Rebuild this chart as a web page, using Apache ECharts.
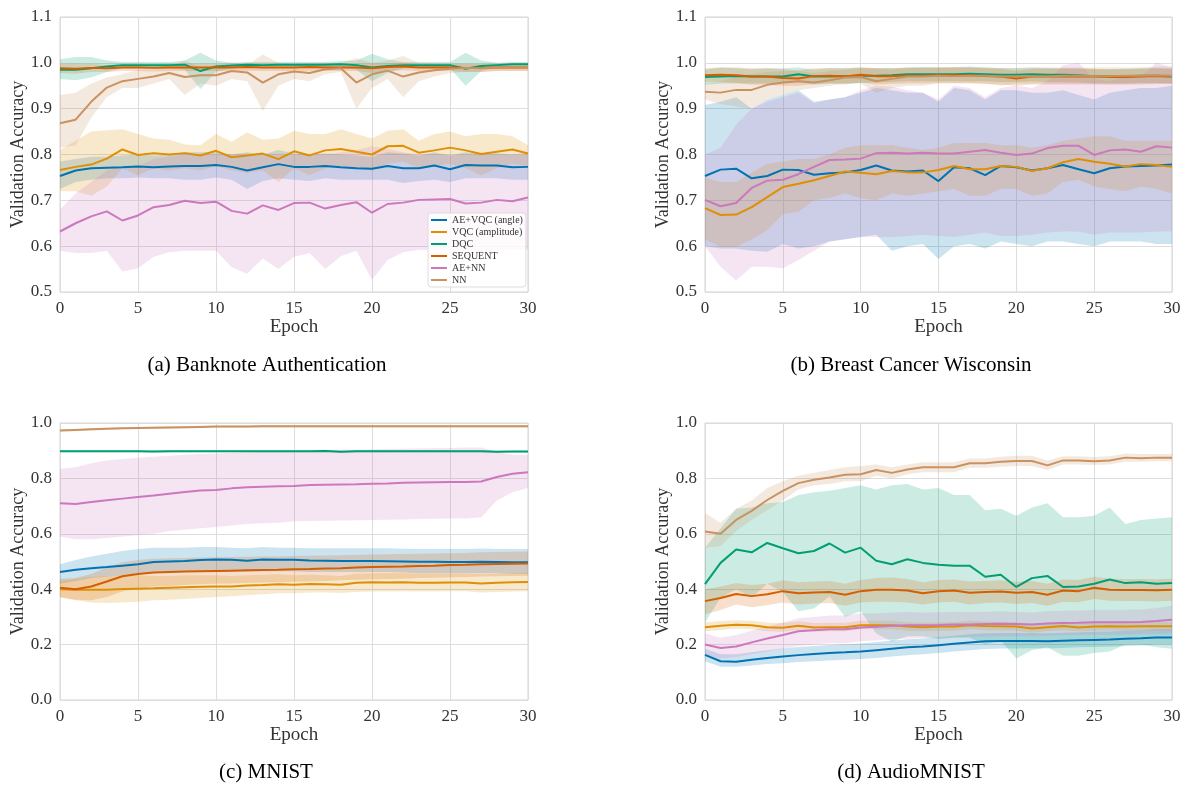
<!DOCTYPE html>
<html>
<head>
<meta charset="utf-8">
<title>Validation accuracy</title>
<script src="https://cdn.jsdelivr.net/npm/echarts@6/dist/echarts.min.js"></script>
<style>
  html, body { margin: 0; background: #fff; }
  #chart { width: 1187px; height: 787px; }
</style>
</head>
<body>
<div id="chart"></div>
<script>
const epochs = ['0','1','2','3','4','5','6','7','8','9','10','11','12','13','14','15','16','17','18','19','20','21','22','23','24','25','26','27','28','29','30'];
const methods = ['AE+VQC (angle)', 'VQC (amplitude)', 'DQC', 'SEQUENT', 'AE+NN', 'NN'];
const colors = ['#0173b2', '#de8f05', '#029e73', '#d55e00', '#cc78bc', '#ca9161'];
const captions = ['(a) Banknote Authentication', '(b) Breast Cancer Wisconsin', '(c) MNIST', '(d) AudioMNIST'];

// (a) Banknote Authentication
const bankAngle = [0.753,0.765,0.770,0.771,0.772,0.774,0.772,0.774,0.775,0.775,0.777,0.773,0.765,0.772,0.779,0.773,0.773,0.775,0.772,0.770,0.769,0.775,0.770,0.770,0.776,0.768,0.777,0.776,0.776,0.772,0.773];
const bankAngleLo = [0.725,0.740,0.745,0.748,0.748,0.750,0.748,0.748,0.745,0.745,0.750,0.745,0.725,0.742,0.748,0.745,0.742,0.748,0.745,0.745,0.745,0.745,0.738,0.742,0.745,0.740,0.748,0.748,0.748,0.745,0.745];
const bankAngleHi = [0.785,0.790,0.795,0.795,0.798,0.800,0.798,0.800,0.805,0.805,0.805,0.800,0.805,0.800,0.810,0.802,0.800,0.802,0.800,0.798,0.795,0.805,0.802,0.798,0.805,0.798,0.805,0.803,0.803,0.800,0.800];
const bankVqc = [0.766,0.773,0.778,0.791,0.811,0.799,0.803,0.800,0.803,0.798,0.808,0.794,0.798,0.802,0.790,0.807,0.798,0.809,0.812,0.806,0.800,0.818,0.819,0.804,0.809,0.815,0.809,0.801,0.806,0.811,0.802];
const bankVqcLo = [0.720,0.720,0.710,0.730,0.770,0.755,0.770,0.765,0.770,0.765,0.775,0.765,0.760,0.765,0.740,0.770,0.755,0.770,0.775,0.770,0.765,0.780,0.785,0.770,0.775,0.780,0.770,0.755,0.770,0.780,0.775];
const bankVqcHi = [0.810,0.830,0.850,0.853,0.855,0.845,0.835,0.832,0.822,0.820,0.845,0.828,0.848,0.832,0.835,0.852,0.845,0.845,0.855,0.845,0.835,0.852,0.855,0.830,0.845,0.850,0.840,0.845,0.845,0.840,0.820];
const bankDqc = [0.985,0.985,0.988,0.992,0.995,0.995,0.995,0.995,0.996,0.982,0.992,0.994,0.996,0.995,0.996,0.996,0.996,0.996,0.997,0.995,0.990,0.993,0.995,0.995,0.995,0.995,0.987,0.993,0.995,0.997,0.997];
const bankDqcLo = [0.965,0.962,0.968,0.980,0.988,0.988,0.988,0.988,0.985,0.943,0.980,0.988,0.990,0.988,0.990,0.990,0.990,0.990,0.990,0.985,0.960,0.978,0.988,0.988,0.988,0.988,0.950,0.982,0.990,0.992,0.992];
const bankDqcHi = [1.008,1.013,1.013,1.005,1.002,1.002,1.002,1.002,1.005,1.022,1.005,1.000,1.002,1.002,1.002,1.002,1.002,1.002,1.004,1.005,1.020,1.008,1.002,1.002,1.002,1.002,1.022,1.005,1.000,1.002,1.002];
const bankSeq = [0.988,0.987,0.989,0.988,0.990,0.990,0.989,0.990,0.990,0.990,0.990,0.990,0.991,0.990,0.990,0.990,0.991,0.990,0.990,0.990,0.988,0.991,0.992,0.990,0.990,0.990,0.989,0.989,0.990,0.990,0.990];
const bankSeqLo = [0.978,0.976,0.980,0.980,0.982,0.982,0.981,0.982,0.982,0.982,0.982,0.982,0.983,0.982,0.982,0.982,0.983,0.982,0.982,0.982,0.978,0.982,0.984,0.982,0.982,0.982,0.980,0.980,0.982,0.982,0.982];
const bankSeqHi = [0.998,0.998,0.998,0.996,0.998,0.998,0.997,0.998,0.998,0.998,0.998,0.998,0.999,0.998,0.998,0.998,0.999,0.998,0.998,0.998,0.998,0.999,1.000,0.998,0.998,0.998,0.998,0.998,0.998,0.998,0.998];
const bankAenn = [0.632,0.650,0.665,0.676,0.656,0.667,0.685,0.690,0.699,0.694,0.697,0.677,0.671,0.689,0.679,0.694,0.695,0.682,0.690,0.696,0.673,0.692,0.695,0.701,0.702,0.703,0.693,0.695,0.701,0.698,0.706];
const bankAennLo = [0.590,0.585,0.585,0.590,0.545,0.552,0.577,0.587,0.590,0.590,0.590,0.554,0.540,0.573,0.550,0.577,0.585,0.550,0.578,0.590,0.527,0.570,0.587,0.592,0.592,0.592,0.590,0.590,0.593,0.592,0.592];
const bankAennHi = [0.680,0.715,0.740,0.765,0.775,0.775,0.790,0.795,0.800,0.800,0.800,0.800,0.800,0.800,0.800,0.800,0.800,0.800,0.805,0.810,0.818,0.812,0.805,0.800,0.800,0.800,0.800,0.800,0.800,0.800,0.805];
const bankNn = [0.868,0.876,0.915,0.946,0.960,0.965,0.970,0.978,0.969,0.973,0.973,0.982,0.979,0.957,0.975,0.981,0.978,0.986,0.988,0.957,0.975,0.983,0.970,0.979,0.984,0.987,0.989,0.988,0.990,0.990,0.990];
const bankNnLo = [0.815,0.820,0.880,0.925,0.945,0.945,0.955,0.965,0.930,0.955,0.950,0.965,0.960,0.895,0.950,0.965,0.960,0.975,0.980,0.900,0.945,0.965,0.925,0.960,0.970,0.978,0.980,0.980,0.982,0.982,0.982];
const bankNnHi = [0.930,0.935,0.955,0.968,0.975,0.985,0.985,0.993,1.005,0.990,0.995,1.000,0.995,1.018,1.000,0.997,0.995,1.000,1.000,1.010,1.000,1.005,1.015,1.000,0.998,0.998,0.998,0.997,0.998,0.998,0.998];

// (b) Breast Cancer Wisconsin
const breastAngle = [0.753,0.767,0.769,0.748,0.753,0.767,0.766,0.756,0.759,0.761,0.766,0.776,0.765,0.763,0.765,0.742,0.772,0.770,0.755,0.775,0.772,0.765,0.770,0.777,0.768,0.759,0.770,0.774,0.775,0.776,0.778];
const breastAngleLo = [0.600,0.595,0.595,0.590,0.588,0.605,0.595,0.600,0.610,0.615,0.620,0.625,0.590,0.600,0.605,0.572,0.600,0.605,0.595,0.610,0.605,0.600,0.610,0.610,0.605,0.600,0.610,0.610,0.610,0.605,0.605];
const breastAngleHi = [0.908,0.915,0.925,0.900,0.920,0.930,0.940,0.915,0.920,0.925,0.935,0.945,0.940,0.935,0.935,0.915,0.945,0.940,0.920,0.940,0.940,0.935,0.935,0.940,0.930,0.920,0.935,0.940,0.945,0.945,0.950];
const breastVqc = [0.683,0.668,0.669,0.685,0.707,0.729,0.736,0.744,0.753,0.763,0.760,0.757,0.764,0.761,0.761,0.766,0.775,0.768,0.768,0.775,0.773,0.764,0.770,0.783,0.790,0.784,0.780,0.774,0.779,0.777,0.773];
const breastVqcLo = [0.615,0.598,0.598,0.615,0.635,0.670,0.675,0.700,0.705,0.715,0.705,0.700,0.715,0.710,0.715,0.720,0.725,0.710,0.710,0.725,0.725,0.710,0.715,0.740,0.745,0.730,0.725,0.720,0.730,0.725,0.715];
const breastVqcHi = [0.750,0.740,0.740,0.760,0.780,0.785,0.790,0.790,0.800,0.815,0.820,0.820,0.820,0.815,0.810,0.815,0.825,0.825,0.825,0.820,0.820,0.815,0.820,0.830,0.835,0.840,0.840,0.830,0.830,0.830,0.830];
const breastDqc = [0.969,0.970,0.971,0.970,0.970,0.970,0.975,0.970,0.970,0.971,0.972,0.972,0.973,0.975,0.975,0.975,0.975,0.976,0.975,0.974,0.974,0.975,0.974,0.974,0.973,0.971,0.971,0.971,0.972,0.972,0.970];
const breastDqcLo = [0.952,0.955,0.955,0.955,0.955,0.955,0.958,0.952,0.955,0.955,0.956,0.957,0.958,0.960,0.960,0.960,0.960,0.960,0.960,0.958,0.958,0.960,0.958,0.958,0.957,0.955,0.955,0.955,0.956,0.956,0.955];
const breastDqcHi = [0.985,0.990,0.988,0.986,0.988,0.988,0.990,0.985,0.988,0.988,0.989,0.988,0.989,0.990,0.991,0.990,0.991,0.992,0.990,0.989,0.989,0.990,0.989,0.988,0.988,0.986,0.986,0.987,0.988,0.988,0.986];
const breastSeq = [0.973,0.974,0.973,0.970,0.970,0.967,0.966,0.971,0.972,0.970,0.974,0.971,0.971,0.972,0.972,0.973,0.973,0.973,0.971,0.970,0.966,0.970,0.970,0.970,0.970,0.970,0.969,0.969,0.970,0.971,0.971];
const breastSeqLo = [0.958,0.958,0.956,0.952,0.952,0.950,0.950,0.954,0.955,0.953,0.957,0.953,0.954,0.955,0.955,0.956,0.956,0.956,0.954,0.953,0.950,0.953,0.953,0.953,0.953,0.953,0.952,0.952,0.953,0.954,0.954];
const breastSeqHi = [0.988,0.990,0.990,0.988,0.988,0.986,0.984,0.988,0.989,0.988,0.991,0.988,0.988,0.989,0.989,0.990,0.990,0.990,0.988,0.987,0.983,0.987,0.987,0.987,0.987,0.987,0.986,0.986,0.987,0.988,0.988];
const breastAenn = [0.701,0.687,0.694,0.727,0.743,0.745,0.757,0.773,0.788,0.789,0.791,0.803,0.804,0.802,0.804,0.802,0.802,0.806,0.810,0.804,0.799,0.802,0.814,0.819,0.819,0.799,0.809,0.811,0.806,0.818,0.815];
const breastAennLo = [0.600,0.555,0.525,0.555,0.555,0.552,0.570,0.590,0.610,0.615,0.620,0.620,0.620,0.622,0.625,0.622,0.620,0.625,0.630,0.622,0.622,0.625,0.630,0.632,0.632,0.625,0.630,0.630,0.630,0.632,0.632];
const breastAennHi = [0.800,0.815,0.865,0.900,0.915,0.925,0.935,0.912,0.920,0.925,0.940,0.950,0.948,0.940,0.935,0.920,0.950,0.945,0.925,0.945,0.950,0.945,0.960,0.995,1.000,0.965,0.960,0.970,0.970,1.000,0.990];
const breastNn = [0.937,0.935,0.941,0.941,0.952,0.957,0.960,0.957,0.962,0.968,0.969,0.960,0.965,0.970,0.970,0.972,0.971,0.972,0.972,0.970,0.970,0.970,0.970,0.972,0.972,0.971,0.971,0.972,0.972,0.973,0.972];
const breastNnLo = [0.920,0.910,0.905,0.900,0.920,0.930,0.940,0.945,0.950,0.955,0.955,0.935,0.945,0.950,0.950,0.955,0.955,0.955,0.955,0.950,0.955,0.955,0.955,0.955,0.955,0.955,0.955,0.955,0.955,0.955,0.955];
const breastNnHi = [0.955,0.960,0.970,0.975,0.980,0.982,0.982,0.978,0.982,0.985,0.988,0.988,0.985,0.990,0.990,0.990,0.990,0.990,0.990,0.988,0.988,0.990,0.990,0.990,0.990,0.990,0.990,0.990,0.990,0.992,0.992];

// (c) MNIST
const mnistAngle = [0.462,0.470,0.476,0.480,0.485,0.490,0.498,0.500,0.502,0.505,0.507,0.506,0.503,0.507,0.506,0.506,0.504,0.503,0.502,0.502,0.502,0.501,0.500,0.499,0.499,0.498,0.498,0.499,0.498,0.497,0.497];
const mnistAngleLo = [0.420,0.430,0.440,0.445,0.450,0.455,0.460,0.460,0.462,0.465,0.465,0.465,0.462,0.465,0.465,0.465,0.462,0.462,0.462,0.462,0.462,0.462,0.460,0.458,0.458,0.458,0.458,0.458,0.458,0.456,0.456];
const mnistAngleHi = [0.490,0.505,0.518,0.528,0.538,0.545,0.550,0.550,0.550,0.552,0.552,0.550,0.548,0.552,0.550,0.550,0.548,0.548,0.548,0.548,0.548,0.548,0.546,0.545,0.545,0.545,0.545,0.547,0.545,0.545,0.545];
const mnistVqc = [0.400,0.398,0.398,0.398,0.401,0.402,0.403,0.405,0.407,0.409,0.410,0.410,0.413,0.415,0.418,0.416,0.419,0.418,0.416,0.423,0.425,0.424,0.425,0.423,0.423,0.424,0.424,0.421,0.423,0.425,0.426];
const mnistVqcLo = [0.370,0.360,0.352,0.350,0.352,0.355,0.360,0.362,0.365,0.368,0.372,0.375,0.378,0.382,0.385,0.385,0.388,0.388,0.386,0.390,0.392,0.392,0.393,0.392,0.392,0.393,0.393,0.388,0.390,0.392,0.393];
const mnistVqcHi = [0.430,0.436,0.444,0.446,0.450,0.450,0.448,0.448,0.450,0.450,0.450,0.448,0.450,0.452,0.454,0.450,0.452,0.450,0.448,0.456,0.458,0.458,0.458,0.456,0.456,0.456,0.456,0.454,0.456,0.458,0.460];
const mnistDqc = [0.898,0.898,0.898,0.898,0.898,0.898,0.897,0.898,0.898,0.898,0.898,0.898,0.898,0.898,0.898,0.898,0.898,0.899,0.896,0.898,0.898,0.898,0.898,0.898,0.898,0.898,0.898,0.898,0.896,0.897,0.897];
const mnistDqcLo = [0.894,0.894,0.894,0.894,0.894,0.894,0.893,0.894,0.894,0.894,0.894,0.894,0.894,0.894,0.894,0.894,0.894,0.895,0.892,0.894,0.894,0.894,0.894,0.894,0.894,0.894,0.894,0.894,0.892,0.893,0.893];
const mnistDqcHi = [0.902,0.902,0.902,0.902,0.902,0.902,0.901,0.902,0.902,0.902,0.902,0.902,0.902,0.902,0.902,0.902,0.902,0.903,0.900,0.902,0.902,0.902,0.902,0.902,0.902,0.902,0.902,0.902,0.900,0.901,0.901];
const mnistSeq = [0.405,0.400,0.410,0.428,0.447,0.455,0.460,0.462,0.464,0.465,0.466,0.467,0.468,0.469,0.470,0.472,0.473,0.475,0.476,0.478,0.480,0.481,0.482,0.484,0.485,0.487,0.488,0.490,0.491,0.492,0.493];
const mnistSeqLo = [0.372,0.362,0.360,0.372,0.392,0.402,0.410,0.412,0.415,0.418,0.420,0.421,0.422,0.424,0.425,0.427,0.428,0.430,0.432,0.434,0.436,0.437,0.438,0.440,0.441,0.443,0.444,0.446,0.447,0.448,0.449];
const mnistSeqHi = [0.438,0.440,0.455,0.478,0.497,0.505,0.510,0.512,0.513,0.514,0.515,0.516,0.517,0.518,0.518,0.520,0.521,0.522,0.523,0.524,0.525,0.526,0.527,0.528,0.529,0.530,0.531,0.533,0.534,0.535,0.536];
const mnistAenn = [0.710,0.708,0.715,0.721,0.727,0.733,0.738,0.745,0.751,0.756,0.758,0.764,0.768,0.770,0.772,0.773,0.776,0.777,0.778,0.779,0.781,0.782,0.784,0.785,0.786,0.787,0.787,0.789,0.805,0.817,0.822];
const mnistAennLo = [0.590,0.580,0.580,0.585,0.590,0.595,0.600,0.610,0.615,0.620,0.625,0.630,0.635,0.638,0.640,0.645,0.646,0.647,0.648,0.649,0.650,0.651,0.652,0.653,0.654,0.655,0.655,0.660,0.720,0.750,0.765];
const mnistAennHi = [0.835,0.840,0.855,0.865,0.870,0.875,0.878,0.882,0.885,0.888,0.890,0.892,0.894,0.896,0.898,0.899,0.900,0.902,0.903,0.904,0.905,0.906,0.907,0.908,0.909,0.910,0.912,0.912,0.895,0.885,0.885];
const mnistNn = [0.973,0.975,0.977,0.979,0.981,0.982,0.983,0.984,0.985,0.986,0.987,0.987,0.987,0.988,0.988,0.988,0.988,0.988,0.988,0.988,0.988,0.988,0.988,0.988,0.988,0.988,0.988,0.988,0.988,0.988,0.988];
const mnistNnLo = [0.969,0.971,0.973,0.975,0.977,0.978,0.979,0.980,0.981,0.982,0.983,0.983,0.983,0.984,0.984,0.984,0.984,0.984,0.984,0.984,0.984,0.984,0.984,0.984,0.984,0.984,0.984,0.984,0.984,0.984,0.984];
const mnistNnHi = [0.977,0.979,0.981,0.983,0.985,0.986,0.987,0.988,0.989,0.990,0.991,0.991,0.991,0.992,0.992,0.992,0.992,0.992,0.992,0.992,0.992,0.992,0.992,0.992,0.992,0.992,0.992,0.992,0.992,0.992,0.992];

// (d) AudioMNIST
const audioAngle = [0.163,0.140,0.138,0.145,0.152,0.157,0.162,0.166,0.170,0.172,0.175,0.180,0.185,0.190,0.193,0.198,0.203,0.208,0.212,0.213,0.213,0.213,0.212,0.214,0.216,0.217,0.218,0.221,0.223,0.226,0.226];
const audioAngleLo = [0.140,0.120,0.120,0.125,0.130,0.133,0.137,0.140,0.143,0.145,0.148,0.152,0.157,0.162,0.165,0.170,0.175,0.180,0.184,0.186,0.186,0.187,0.186,0.188,0.190,0.191,0.192,0.195,0.197,0.200,0.200];
const audioAngleHi = [0.185,0.165,0.165,0.172,0.180,0.186,0.191,0.195,0.199,0.201,0.204,0.209,0.214,0.219,0.222,0.227,0.232,0.237,0.241,0.242,0.242,0.242,0.241,0.243,0.245,0.246,0.247,0.250,0.252,0.255,0.255];
const audioVqc = [0.263,0.268,0.272,0.270,0.263,0.261,0.268,0.262,0.263,0.263,0.270,0.270,0.270,0.265,0.263,0.265,0.265,0.270,0.267,0.266,0.265,0.258,0.263,0.267,0.262,0.265,0.266,0.265,0.266,0.266,0.266];
const audioVqcLo = [0.248,0.253,0.257,0.255,0.248,0.246,0.253,0.247,0.248,0.248,0.255,0.255,0.255,0.250,0.248,0.250,0.250,0.255,0.252,0.251,0.250,0.243,0.248,0.252,0.247,0.250,0.251,0.250,0.251,0.251,0.251];
const audioVqcHi = [0.280,0.285,0.288,0.286,0.280,0.278,0.284,0.278,0.279,0.279,0.286,0.286,0.286,0.281,0.279,0.281,0.281,0.286,0.283,0.282,0.281,0.274,0.279,0.283,0.278,0.281,0.282,0.281,0.282,0.282,0.282];
const audioDqc = [0.418,0.495,0.543,0.533,0.567,0.548,0.530,0.538,0.565,0.532,0.550,0.503,0.490,0.508,0.495,0.488,0.485,0.485,0.445,0.452,0.408,0.440,0.448,0.408,0.410,0.420,0.435,0.422,0.425,0.420,0.422];
const audioDqcLo = [0.280,0.370,0.400,0.370,0.420,0.390,0.320,0.330,0.375,0.300,0.320,0.240,0.210,0.230,0.230,0.220,0.225,0.225,0.200,0.215,0.150,0.180,0.190,0.160,0.160,0.170,0.175,0.200,0.200,0.190,0.185];
const audioDqcHi = [0.550,0.620,0.690,0.695,0.710,0.715,0.740,0.750,0.755,0.765,0.775,0.760,0.775,0.780,0.760,0.765,0.740,0.740,0.685,0.690,0.665,0.695,0.710,0.660,0.660,0.665,0.695,0.635,0.650,0.655,0.660];
const audioSeq = [0.357,0.368,0.383,0.375,0.382,0.393,0.385,0.388,0.390,0.380,0.393,0.398,0.398,0.395,0.385,0.393,0.395,0.387,0.390,0.392,0.387,0.390,0.380,0.395,0.393,0.405,0.398,0.397,0.397,0.396,0.398];
const audioSeqLo = [0.310,0.325,0.345,0.335,0.342,0.352,0.345,0.348,0.350,0.340,0.352,0.355,0.355,0.352,0.345,0.352,0.355,0.345,0.350,0.352,0.347,0.350,0.340,0.355,0.353,0.365,0.358,0.357,0.357,0.356,0.358];
const audioSeqHi = [0.400,0.410,0.422,0.415,0.420,0.432,0.425,0.428,0.430,0.420,0.433,0.440,0.442,0.437,0.425,0.433,0.435,0.428,0.430,0.432,0.427,0.430,0.420,0.435,0.433,0.445,0.438,0.437,0.437,0.436,0.438];
const audioAenn = [0.200,0.188,0.193,0.208,0.222,0.235,0.248,0.252,0.255,0.255,0.262,0.264,0.268,0.270,0.270,0.271,0.273,0.273,0.274,0.275,0.274,0.273,0.276,0.278,0.279,0.281,0.281,0.281,0.282,0.285,0.290];
const audioAennLo = [0.160,0.150,0.155,0.165,0.175,0.185,0.195,0.200,0.205,0.205,0.212,0.215,0.220,0.222,0.224,0.225,0.227,0.228,0.229,0.230,0.230,0.230,0.232,0.234,0.235,0.236,0.236,0.236,0.237,0.238,0.240];
const audioAennHi = [0.240,0.225,0.235,0.250,0.265,0.280,0.295,0.300,0.305,0.305,0.312,0.313,0.316,0.318,0.316,0.317,0.319,0.318,0.319,0.320,0.318,0.316,0.320,0.322,0.323,0.326,0.326,0.326,0.327,0.332,0.340];
const audioNn = [0.608,0.600,0.650,0.683,0.722,0.755,0.783,0.795,0.803,0.813,0.815,0.830,0.820,0.832,0.840,0.840,0.840,0.855,0.855,0.860,0.863,0.863,0.847,0.865,0.865,0.862,0.865,0.875,0.873,0.875,0.875];
const audioNnLo = [0.550,0.555,0.610,0.650,0.685,0.720,0.760,0.775,0.780,0.790,0.790,0.810,0.800,0.815,0.822,0.822,0.822,0.838,0.838,0.842,0.845,0.845,0.830,0.850,0.850,0.848,0.850,0.860,0.860,0.862,0.862];
const audioNnHi = [0.675,0.640,0.690,0.720,0.765,0.790,0.810,0.820,0.830,0.840,0.845,0.850,0.840,0.850,0.858,0.858,0.858,0.872,0.872,0.878,0.882,0.882,0.865,0.880,0.880,0.877,0.880,0.890,0.888,0.888,0.888];

const yMin = [0.5, 0.5, 0, 0];
const yMax = [1.1, 1.1, 1.0, 1.0];
const yStep = [0.1, 0.1, 0.2, 0.2];

const panels = [
  [[bankAngle, bankVqc, bankDqc, bankSeq, bankAenn, bankNn],
   [bankAngleLo, bankVqcLo, bankDqcLo, bankSeqLo, bankAennLo, bankNnLo],
   [bankAngleHi, bankVqcHi, bankDqcHi, bankSeqHi, bankAennHi, bankNnHi]],
  [[breastAngle, breastVqc, breastDqc, breastSeq, breastAenn, breastNn],
   [breastAngleLo, breastVqcLo, breastDqcLo, breastSeqLo, breastAennLo, breastNnLo],
   [breastAngleHi, breastVqcHi, breastDqcHi, breastSeqHi, breastAennHi, breastNnHi]],
  [[mnistAngle, mnistVqc, mnistDqc, mnistSeq, mnistAenn, mnistNn],
   [mnistAngleLo, mnistVqcLo, mnistDqcLo, mnistSeqLo, mnistAennLo, mnistNnLo],
   [mnistAngleHi, mnistVqcHi, mnistDqcHi, mnistSeqHi, mnistAennHi, mnistNnHi]],
  [[audioAngle, audioVqc, audioDqc, audioSeq, audioAenn, audioNn],
   [audioAngleLo, audioVqcLo, audioDqcLo, audioSeqLo, audioAennLo, audioNnLo],
   [audioAngleHi, audioVqcHi, audioDqcHi, audioSeqHi, audioAennHi, audioNnHi]]
];

const serif = 'Liberation Serif';
const grids = [
  { left: 60, top: 17, width: 468, height: 275 },
  { left: 705, top: 17, width: 467, height: 275 },
  { left: 60, top: 423, width: 468, height: 277 },
  { left: 705, top: 423, width: 467, height: 277 }
];

const xAxes = grids.map(function (g, p) {
  return {
    type: 'category', gridIndex: p, data: epochs, boundaryGap: false,
    name: 'Epoch', nameLocation: 'middle', nameGap: 24,
    nameTextStyle: { fontFamily: serif, fontSize: 19, color: '#333' },
    axisLine: { show: false }, axisTick: { show: false },
    axisLabel: { interval: 4, margin: 8, fontFamily: serif, fontSize: 17, color: '#333' },
    splitLine: { show: true, interval: 4, lineStyle: { color: '#dddddd', width: 1 } }
  };
});

const yAxes = grids.map(function (g, p) {
  return {
    type: 'value', gridIndex: p, min: yMin[p], max: yMax[p], interval: yStep[p],
    name: 'Validation Accuracy', nameLocation: 'middle', nameGap: 31,
    nameTextStyle: { fontFamily: serif, fontSize: 18, color: '#333' },
    axisLine: { show: false }, axisTick: { show: false },
    axisLabel: { margin: 8, fontFamily: serif, fontSize: 17, color: '#333',
      formatter: function (v) { return v.toFixed(1); } },
    splitLine: { show: true, lineStyle: { color: '#dddddd', width: 1 } }
  };
});

const series = [];
panels.forEach(function (pd, p) {
  const means = pd[0], los = pd[1], his = pd[2];
  methods.forEach(function (name, i) {
    const stack = 'band' + p + '_' + i;
    series.push({
      name: name + ' lower', type: 'line', xAxisIndex: p, yAxisIndex: p, stack: stack,
      data: los[i], symbol: 'none', silent: true, z: 1,
      lineStyle: { opacity: 0 }
    });
    series.push({
      name: name + ' band', type: 'line', xAxisIndex: p, yAxisIndex: p, stack: stack,
      data: his[i].map(function (h, k) { return +(h - los[i][k]).toFixed(4); }),
      symbol: 'none', silent: true, z: 1,
      lineStyle: { opacity: 0 },
      areaStyle: { color: colors[i], opacity: 0.2 }
    });
  });
  methods.forEach(function (name, i) {
    series.push({
      name: name, type: 'line', xAxisIndex: p, yAxisIndex: p,
      data: means[i], symbol: 'none', z: 3, color: colors[i],
      lineStyle: { width: 2, color: colors[i] }
    });
  });
});

const captionGraphics = [
  { x: 267, y: 365 }, { x: 911, y: 365 }, { x: 266, y: 772 }, { x: 911, y: 772 }
].map(function (pos, p) {
  return {
    type: 'text', x: pos.x, y: pos.y,
    style: { text: captions[p], font: '21px "Liberation Serif"', fill: '#000',
      textAlign: 'center', textVerticalAlign: 'middle' }
  };
});

const chart = echarts.init(document.getElementById('chart'));
chart.setOption({
  animation: false,
  backgroundColor: '#ffffff',
  grid: grids.map(function (g) {
    return Object.assign({ show: true, borderColor: '#d4d4d4', borderWidth: 1 }, g);
  }),
  xAxis: xAxes,
  yAxis: yAxes,
  legend: {
    data: methods, orient: 'vertical', left: 428, top: 213,
    icon: 'rect', itemWidth: 16, itemHeight: 2, itemGap: 2,
    padding: [2, 3, 2, 3],
    backgroundColor: 'rgba(255,255,255,0.85)', borderColor: '#dddddd', borderWidth: 1, borderRadius: 3,
    textStyle: { fontFamily: serif, fontSize: 10, color: '#333' }
  },
  graphic: captionGraphics,
  series: series
});
</script>
</body>
</html>
